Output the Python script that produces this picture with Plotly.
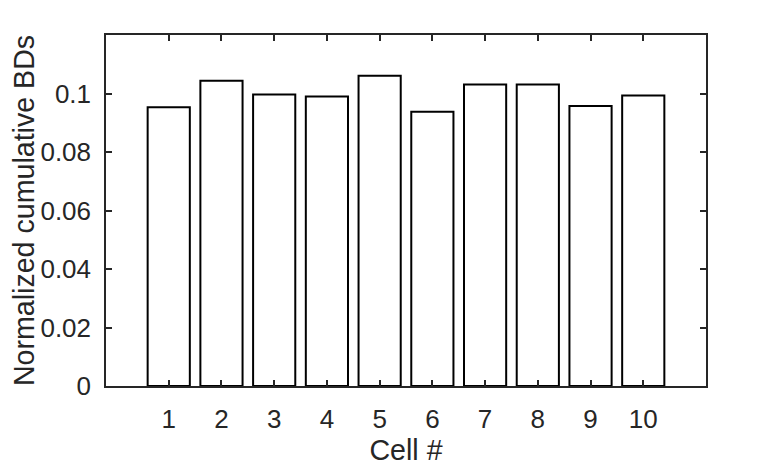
import plotly.graph_objects as go

cells = [1, 2, 3, 4, 5, 6, 7, 8, 9, 10]
values = [0.0953, 0.1044, 0.0997, 0.0990, 0.1061, 0.0938, 0.1031, 0.1031, 0.0957, 0.0993]
x_tick_labels = ["1", "2", "3", "4", "5", "6", "7", "8", "9", "10"]
y_tick_vals = [0, 0.02, 0.04, 0.06, 0.08, 0.1]
y_tick_labels = ["0", "0.02", "0.04", "0.06", "0.08", "0.1"]

axis_color = "#262626"
font_family = "Liberation Sans, Arial, Helvetica, sans-serif"

fig = go.Figure(
    go.Bar(
        x=cells,
        y=values,
        width=0.8,
        marker=dict(color="white", line=dict(color="black", width=2)),
    )
)

# page body has an 8px default margin, so the margins are shifted by 8px
fig.update_layout(
    width=781,
    height=469,
    margin=dict(l=98, r=83, t=27, b=91),
    paper_bgcolor="white",
    plot_bgcolor="white",
    showlegend=False,
    font=dict(family=font_family, size=26, color=axis_color),
)

fig.update_xaxes(
    range=[-0.19, 11.19],
    tickvals=cells,
    ticktext=x_tick_labels,
    ticks="inside",
    ticklen=6,
    tickwidth=1.5,
    tickcolor=axis_color,
    showline=True,
    linecolor=axis_color,
    linewidth=1.5,
    mirror="ticks",
    showgrid=False,
    zeroline=False,
    title=dict(text="Cell #", font=dict(size=28.6), standoff=6),
    tickfont=dict(size=26),
    ticklabelstandoff=9,
    automargin=False,
)

fig.update_yaxes(
    range=[0, 0.12],
    tickvals=y_tick_vals,
    ticktext=y_tick_labels,
    ticks="inside",
    ticklen=6,
    tickwidth=1.5,
    tickcolor=axis_color,
    showline=True,
    linecolor=axis_color,
    linewidth=1.5,
    mirror="ticks",
    showgrid=False,
    zeroline=False,
    title=dict(text="Normalized cumulative BDs", font=dict(size=28.6), standoff=6),
    tickfont=dict(size=26),
    ticklabelstandoff=8,
    automargin=False,
)

fig.write_html("out.html")
